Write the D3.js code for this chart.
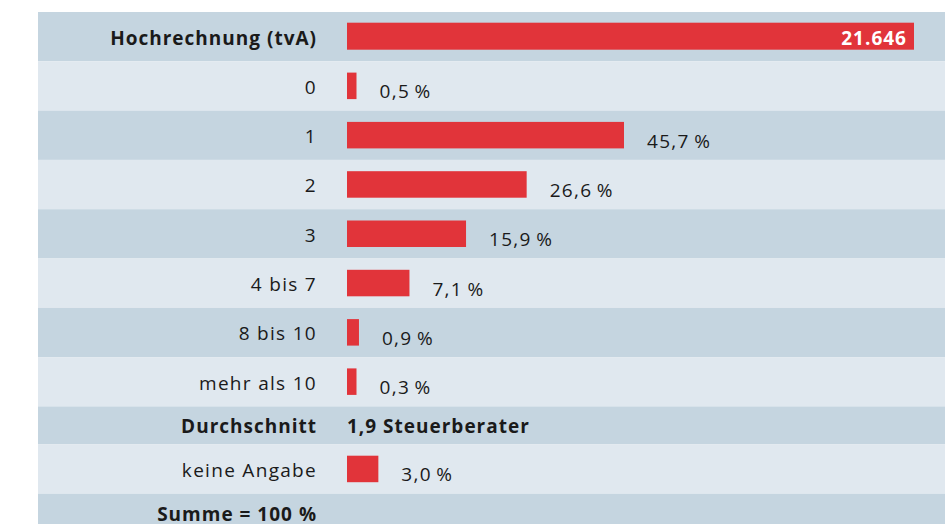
<!DOCTYPE html>
<html>
<head>
<meta charset="utf-8">
<script src="https://cdn.jsdelivr.net/npm/d3@7"></script>
<style>
  body { margin: 0; background: #fff; }
  text { font-family: "Open Sans", sans-serif; fill: #1a1a1a; font-size: 19px; }
</style>
</head>
<body>
<script>
// data
var categories = ["Hochrechnung (tvA)", "0", "1", "2", "3", "4 bis 7", "8 bis 10",
                  "mehr als 10", "Durchschnitt", "keine Angabe", "Summe = 100 %"];
var shares = [null, 0.5, 45.7, 26.6, 15.9, 7.1, 0.9, 0.3, null, 3.0, null];
var total = 21646;
var averageText = "1,9 Steuerberater";

var w = 945, h = 524;
var left = 38, labelX = 317, barX = 347;

var de = d3.formatLocale({ decimal: ",", thousands: ".", grouping: [3], currency: ["", " €"] });
var fmtTotal = de.format(",.0f");
var fmtPct = de.format(".1f");

// row kinds: first = total, Durchschnitt / Summe rows are short and bold
var rows = categories.map(function (c, i) {
  var kind = i === 0 ? 'total' : (c === 'Durchschnitt' ? 'avg' : (i === categories.length - 1 ? 'sum' : 'bar'));
  return { name: c, share: shares[i], kind: kind, h: (kind === 'avg' || kind === 'sum') ? 38 : 49.3 };
});
var y0 = 12;
rows.forEach(function (r) { r.y = y0; y0 += r.h; });

var totalScale = d3.scaleLinear().domain([0, total]).range([0, 567]);
var pctScale = d3.scalePow().exponent(0.8).domain([0, 45.7]).range([0, 277]);
function barW(d) { return Math.max(9.5, pctScale(d.share)); }

var svg = d3.select('body').append('svg')
    .attr('width', w)
    .attr('height', h);

var row = svg.selectAll('g.row')
    .data(rows)
    .enter().append('g')
    .attr('class', 'row')
    .attr('transform', function (d) { return 'translate(0,' + d.y + ')'; });

row.append('rect')
    .attr('x', left)
    .attr('width', w - left)
    .attr('height', function (d) { return d.h; })
    .attr('fill', function (d, i) { return i % 2 === 0 ? '#c5d5e0' : '#e0e8ef'; });

// category labels
row.append('text')
    .attr('x', labelX)
    .attr('y', function (d) { return d.h > 40 ? 32.5 : 27; })
    .attr('text-anchor', 'end')
    .style('letter-spacing', function (d) { return d.kind === 'bar' ? '1.3px' : '1px'; })
    .style('font-weight', function (d) { return d.kind === 'bar' ? 400 : 700; })
    .text(function (d) { return d.name; });

// total bar
var tot = row.filter(function (d) { return d.kind === 'total'; });
tot.append('rect')
    .attr('x', barX)
    .attr('y', 10.7)
    .attr('width', totalScale(total))
    .attr('height', 27)
    .attr('fill', '#e1343a');
tot.append('text')
    .attr('x', barX + totalScale(total) - 7)
    .attr('y', 32.5)
    .attr('text-anchor', 'end')
    .style('font-weight', 700)
    .style('letter-spacing', '1px')
    .style('fill', '#fff')
    .text(fmtTotal(total));

// share bars
var bars = row.filter(function (d) { return d.kind === 'bar'; });
bars.append('rect')
    .attr('x', barX)
    .attr('y', 11.3)
    .attr('width', barW)
    .attr('height', 26.5)
    .attr('fill', '#e1343a');
bars.append('text')
    .attr('x', function (d) { return barX + barW(d) + 23; })
    .attr('y', 37)
    .style('letter-spacing', '1.3px')
    .text(function (d) { return fmtPct(d.share) + '\u2009%'; });

// average
row.filter(function (d) { return d.kind === 'avg'; })
  .append('text')
    .attr('x', barX)
    .attr('y', 27)
    .style('font-weight', 700)
    .style('letter-spacing', '1px')
    .text(averageText);
</script>
</body>
</html>
